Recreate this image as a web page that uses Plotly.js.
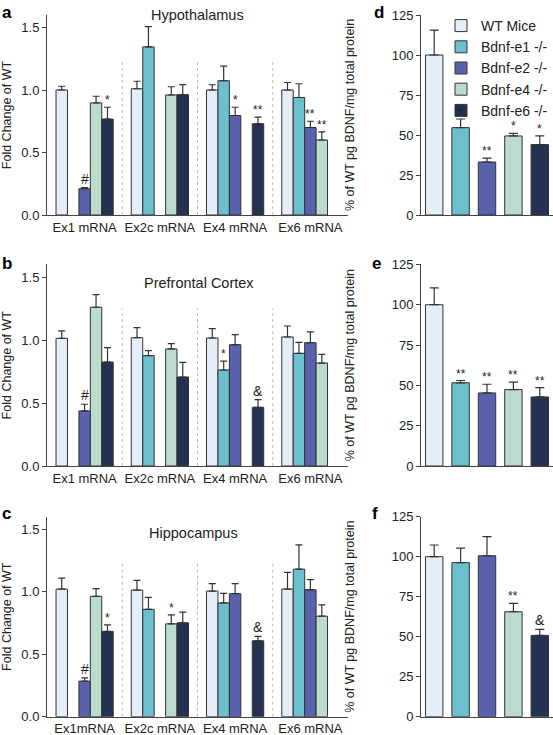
<!DOCTYPE html>
<html><head><meta charset="utf-8">
<script src="https://cdn.plot.ly/plotly-3.0.1.min.js"></script>
<style>html,body{margin:0;padding:0;background:#fff}#chart{width:553px;height:735px}</style>
</head><body><div id="chart"></div><script>
// ---------- data ----------
const seriesNames = ['WT Mice','Bdnf-e1 -/-','Bdnf-e2 -/-','Bdnf-e4 -/-','Bdnf-e6 -/-'];
const seriesColors = ['#e5edf8','#6cbfcc','#5962ad','#bbdccb','#243151'];

const groupsHyp = ['Ex1 mRNA','Ex2c mRNA','Ex4 mRNA','Ex6 mRNA'];
const groupsPfc = ['Ex1 mRNA','Ex2c mRNA','Ex4 mRNA','Ex6 mRNA'];
const groupsHip = ['Ex1mRNA','Ex2c mRNA','Ex4 mRNA','Ex6 mRNA'];

// a: Hypothalamus (fold change of WT)
const hypWT  = [1.00, 1.01, 1.00, 1.00];  const hypWTErr  = [0.03, 0.06, 0.042, 0.06];  const hypWTSig  = ['','','',''];
const hypE1  = [null, 1.345, 1.074, 0.94]; const hypE1Err  = [0, 0.162, 0.117, 0.11];   const hypE1Sig  = ['','','',''];
const hypE2  = [0.21, null, 0.796, 0.70];  const hypE2Err  = [0.01, 0, 0.066, 0.05];    const hypE2Sig  = ['#','','*','**'];
const hypE4  = [0.897, 0.96, null, 0.60];  const hypE4Err  = [0.053, 0.066, 0, 0.065];  const hypE4Sig  = ['','','','**'];
const hypE6  = [0.767, 0.963, 0.73, null]; const hypE6Err  = [0.095, 0.08, 0.053, 0];   const hypE6Sig  = ['*','','**',''];

// b: Prefrontal Cortex
const pfcWT  = [1.013, 1.018, 1.016, 1.024]; const pfcWTErr = [0.06, 0.08, 0.074, 0.087]; const pfcWTSig = ['','','',''];
const pfcE1  = [null, 0.876, 0.762, 0.894];  const pfcE1Err = [0, 0.04, 0.071, 0.087];    const pfcE1Sig = ['','','*',''];
const pfcE2  = [0.437, null, 0.963, 0.979];  const pfcE2Err = [0.053, 0, 0.08, 0.085];    const pfcE2Sig = ['#','','',''];
const pfcE4  = [1.26, 0.929, null, 0.817];   const pfcE4Err = [0.1, 0.042, 0, 0.069];     const pfcE4Sig = ['','','',''];
const pfcE6  = [0.825, 0.706, 0.466, null];  const pfcE6Err = [0.114, 0.117, 0.06, 0];    const pfcE6Sig = ['','','&',''];

// c: Hippocampus
const hipWT  = [1.021, 1.013, 1.005, 1.021]; const hipWTErr = [0.088, 0.077, 0.059, 0.133]; const hipWTSig = ['','','',''];
const hipE1  = [null, 0.859, 0.91, 1.18];    const hipE1Err = [0, 0.096, 0.077, 0.194];     const hipE1Sig = ['','','',''];
const hipE2  = [0.284, null, 0.984, 1.016];  const hipE2Err = [0.027, 0, 0.08, 0.08];       const hipE2Sig = ['#','','',''];
const hipE4  = [0.963, 0.743, null, 0.804];  const hipE4Err = [0.061, 0.071, 0, 0.09];      const hipE4Sig = ['','*','',''];
const hipE6  = [0.682, 0.751, 0.607, null];  const hipE6Err = [0.053, 0.085, 0.035, 0];     const hipE6Sig = ['*','','&',''];

// d, e, f: % of WT pg BDNF/mg total protein
const protHyp = [100, 54.6, 33.1, 49.4, 44.0]; const protHypErr = [15.6, 5.4, 2.5, 1.6, 5.4]; const protHypSig = ['','*','**','*','*'];
const protPfc = [100, 51.6, 45.3, 47.4, 42.8]; const protPfcErr = [10.4, 1.4, 5.4, 4.6, 5.8]; const protPfcSig = ['','**','**','**','**'];
const protHip = [100, 96.3, 100.6, 65.6, 50.8]; const protHipErr = [7.3, 9.0, 11.9, 5.2, 3.8]; const protHipSig = ['','','','**','&'];

const leftYTicks = [0, 0.5, 1.0, 1.5];
const rightYTicks = [0, 25, 50, 75, 100, 125];

// ---------- layout helpers ----------
const W = 553, H = 735;
const FONT = 'Liberation Sans, Arial, Helvetica, sans-serif';
const TXT = '#222';
const leftX = [47/W, 348/W];
const rightX = [421/W, 1];
const rows = [[1-215/H, 1-15/H], [1-466/H, 1-264.4/H], [1-716.7/H, 1-516.7/H]];
const BARGAP = 0.24;

const traces = [];
const annotations = [];
const shapes = [];

const leftPanels = [
  {groups: groupsHyp, vals: [hypWT,hypE1,hypE2,hypE4,hypE6], errs: [hypWTErr,hypE1Err,hypE2Err,hypE4Err,hypE6Err], sigs: [hypWTSig,hypE1Sig,hypE2Sig,hypE4Sig,hypE6Sig], title: 'Hypothalamus', titleX: 198, titleY: 15},
  {groups: groupsPfc, vals: [pfcWT,pfcE1,pfcE2,pfcE4,pfcE6], errs: [pfcWTErr,pfcE1Err,pfcE2Err,pfcE4Err,pfcE6Err], sigs: [pfcWTSig,pfcE1Sig,pfcE2Sig,pfcE4Sig,pfcE6Sig], title: 'Prefrontal Cortex', titleX: 199, titleY: 283},
  {groups: groupsHip, vals: [hipWT,hipE1,hipE2,hipE4,hipE6], errs: [hipWTErr,hipE1Err,hipE2Err,hipE4Err,hipE6Err], sigs: [hipWTSig,hipE1Sig,hipE2Sig,hipE4Sig,hipE6Sig], title: 'Hippocampus', titleX: 193, titleY: 533}
];
const rightPanels = [
  {vals: protHyp, errs: protHypErr, sigs: protHypSig},
  {vals: protPfc, errs: protPfcErr, sigs: protPfcSig},
  {vals: protHip, errs: protHipErr, sigs: protHipSig}
];
const letters = [['a',0,1],['b',0,252],['c',0,502],['d',372,1],['e',370,252],['f',370,502]];

const layout = {
  width: W, height: H,
  margin: {l:0, r:0, t:0, b:0},
  paper_bgcolor: '#fff', plot_bgcolor: 'rgba(0,0,0,0)',
  font: {family: FONT, size: 13, color: TXT},
  barmode: 'group', bargap: BARGAP, bargroupgap: 0,
  showlegend: true,
  legend: {x: 441/W, y: 1-10/H, xanchor: 'left', yanchor: 'top', bgcolor: 'rgba(0,0,0,0)',
           font: {family: FONT, size: 14, color: TXT}, tracegroupgap: 0},
  annotations: annotations, shapes: shapes
};

function sigFont(s){ return (s.indexOf('*') >= 0) ? 12 : 14; }

leftPanels.forEach((p, r) => {
  const ax = r === 0 ? '' : String(r+1);
  const xa = 'x' + ax, ya = 'y' + ax;
  layout['xaxis' + ax] = {
    domain: leftX, anchor: ya, type: 'category', showline: true, linecolor: '#444', linewidth: 1,
    ticks: '', showgrid: false, zeroline: false, fixedrange: true,
    tickfont: {family: FONT, size: 13, color: TXT}
  };
  layout['yaxis' + ax] = {
    domain: rows[r], anchor: xa, range: [0, 1.6], showline: true, linecolor: '#444', linewidth: 1,
    ticks: 'outside', ticklen: 4, tickcolor: '#444', tickvals: leftYTicks, tickformat: '.1f',
    showgrid: false, zeroline: false, fixedrange: true,
    tickfont: {family: FONT, size: 13, color: TXT},
    title: {text: 'Fold Change of WT', font: {family: FONT, size: 12.5, color: TXT}, standoff: 6}
  };
  p.vals.forEach((v, i) => {
    traces.push({
      type: 'bar', x: p.groups, y: v, name: seriesNames[i], xaxis: xa, yaxis: ya,
      legendgroup: seriesNames[i], showlegend: r === 0,
      marker: {color: seriesColors[i], line: {color: '#333', width: 1}},
      error_y: {type: 'data', symmetric: false, array: p.errs[i], arrayminus: p.errs[i].map(() => 0),
                color: '#333', thickness: 1.2, width: 3.5},
      hoverinfo: 'skip'
    });
  });
  // significance marks
  const groupPx = (leftX[1]-leftX[0]) * W / p.groups.length;
  const barPx = groupPx * (1 - BARGAP) / p.vals.length;
  p.sigs.forEach((sarr, i) => {
    sarr.forEach((s, g) => {
      if (!s) return;
      annotations.push({
        xref: xa, yref: ya, x: p.groups[g], y: p.vals[i][g] + p.errs[i][g],
        xshift: (i - 2) * barPx, yshift: s === '#' || s === '&' ? -1 : -2,
        text: s, showarrow: false, yanchor: 'bottom', xanchor: 'center',
        font: {family: FONT, size: sigFont(s), color: TXT}
      });
    });
  });
  // dotted separators between groups
  for (let k = 0; k < p.groups.length - 1; k++) {
    shapes.push({type: 'line', xref: xa, yref: ya, x0: k + 0.5, x1: k + 0.5, y0: 0, y1: 1.25,
                 line: {color: '#bdbdbd', width: 1, dash: 'dot'}});
  }
  // panel title
  annotations.push({xref: 'paper', yref: 'paper', x: p.titleX / W, y: 1 - p.titleY / H,
    text: p.title, showarrow: false, xanchor: 'center', yanchor: 'middle',
    font: {family: FONT, size: 14.5, color: TXT}});
});

rightPanels.forEach((p, r) => {
  const ax = String(r + 4);
  const xa = 'x' + ax, ya = 'y' + ax;
  layout['xaxis' + ax] = {
    domain: rightX, anchor: ya, type: 'category', showline: true, linecolor: '#444', linewidth: 1,
    ticks: '', showticklabels: false, showgrid: false, zeroline: false, fixedrange: true
  };
  layout['yaxis' + ax] = {
    domain: rows[r], anchor: xa, range: [0, 125], showline: true, linecolor: '#444', linewidth: 1,
    ticks: 'outside', ticklen: 4, tickcolor: '#444', tickvals: rightYTicks,
    showgrid: false, zeroline: false, fixedrange: true,
    tickfont: {family: FONT, size: 13, color: TXT},
    title: {text: '% of WT pg BDNF/mg total protein', font: {family: FONT, size: 12.5, color: TXT}, standoff: 34}
  };
  traces.push({
    type: 'bar', x: seriesNames, y: p.vals, xaxis: xa, yaxis: ya, width: 0.66, showlegend: false,
    marker: {color: seriesColors, line: {color: '#333', width: 1}},
    error_y: {type: 'data', symmetric: false, array: p.errs, arrayminus: p.errs.map(() => 0),
              color: '#333', thickness: 1.2, width: 4.5},
    hoverinfo: 'skip'
  });
  p.sigs.forEach((s, i) => {
    if (!s) return;
    annotations.push({
      xref: xa, yref: ya, x: seriesNames[i], y: p.vals[i] + p.errs[i], yshift: s === '&' ? -1 : -2,
      text: s, showarrow: false, yanchor: 'bottom', xanchor: 'center',
      font: {family: FONT, size: sigFont(s), color: TXT}
    });
  });
});

letters.forEach(([t, x, y]) => {
  annotations.push({xref: 'paper', yref: 'paper', x: x / W, y: 1 - y / H, text: '<b>' + t + '</b>',
    showarrow: false, xanchor: 'left', yanchor: 'top', font: {family: FONT, size: 17, color: '#000'}});
});

Plotly.newPlot('chart', traces, layout, {staticPlot: true, displayModeBar: false});
</script></body></html>
